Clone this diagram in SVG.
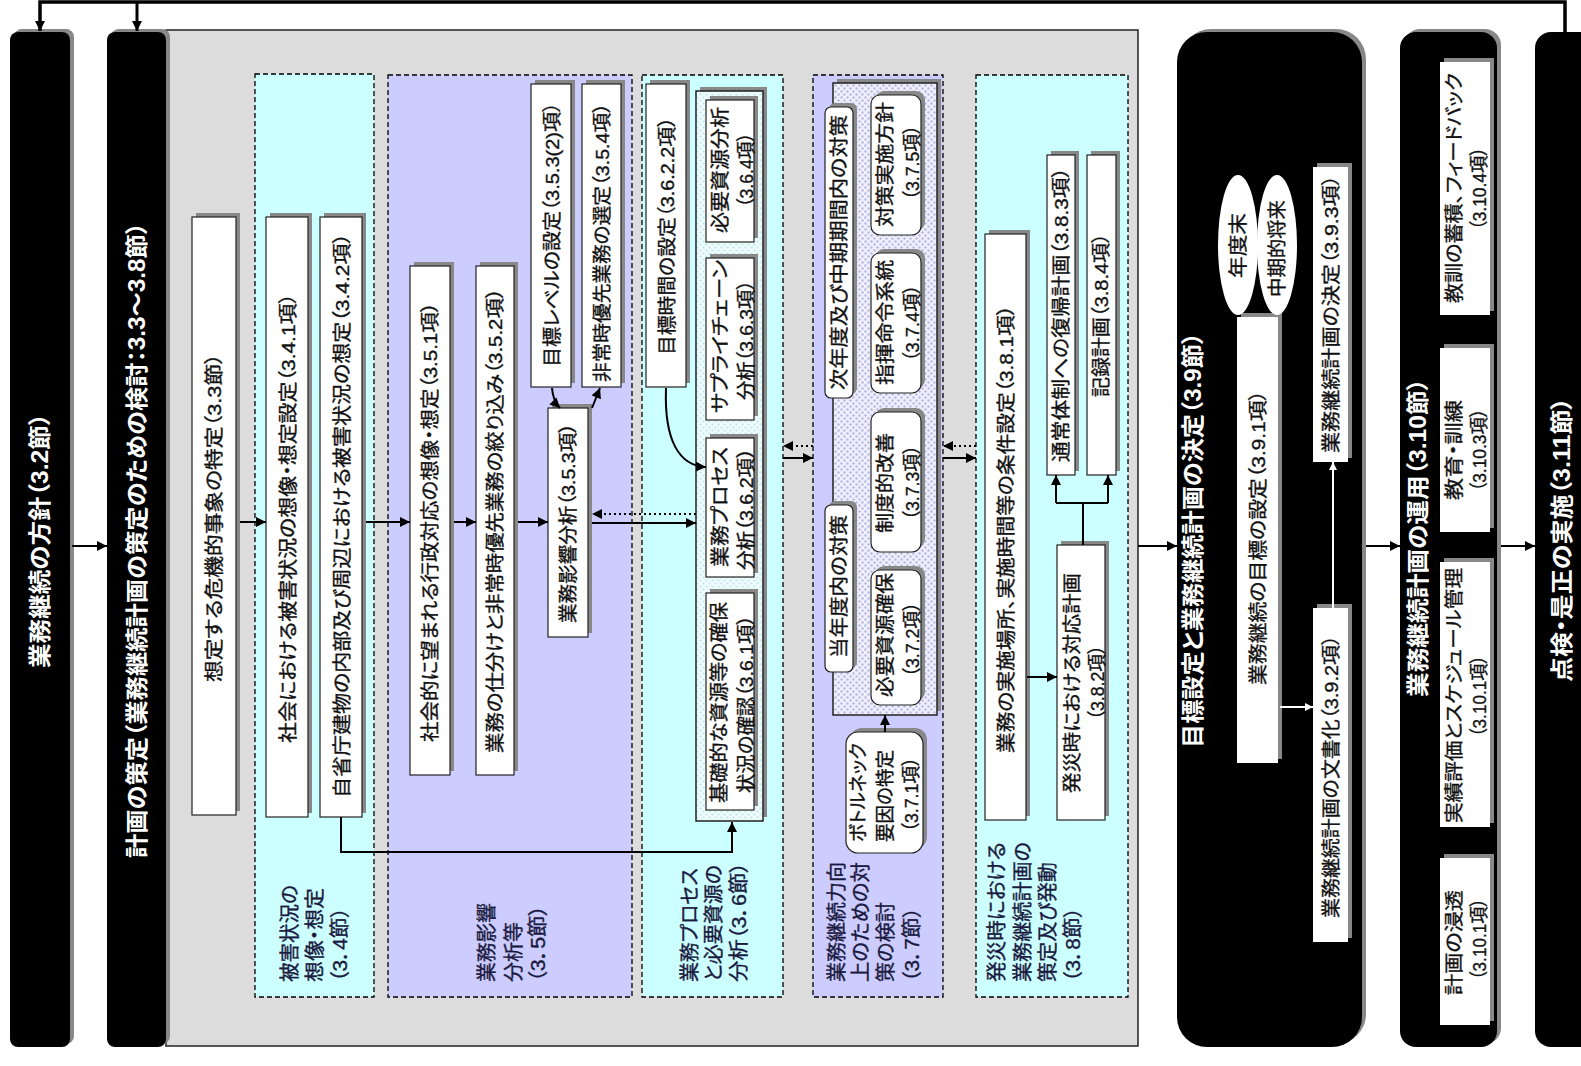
<svg xmlns="http://www.w3.org/2000/svg" width="1581" height="1066" viewBox="0 0 1581 1066">
<defs>
<style>
.t{font-family:"Liberation Sans","Noto Sans CJK JP",sans-serif;font-size:19px;fill:#111;stroke:#111;stroke-width:0.35;text-anchor:middle;dominant-baseline:central;font-feature-settings:"palt"}
.tw{font-family:"Liberation Sans","Noto Sans CJK JP",sans-serif;font-size:23px;font-weight:bold;fill:#fff;text-anchor:middle;dominant-baseline:central;font-feature-settings:"palt"}
.lb{font-family:"Liberation Sans","Noto Sans CJK JP",sans-serif;font-size:20px;fill:#1a1a40;stroke:#1a1a40;stroke-width:0.35;text-anchor:start;dominant-baseline:central;font-feature-settings:"palt"}
.bx{fill:#fff;stroke:#222;stroke-width:1.2}
.wb{fill:#fff}
.sh{fill:#888}
.bar{fill:#000}
.col{stroke:#000;stroke-width:1.3;stroke-dasharray:5 3}
.cy{fill:#ccffff}
.lv{fill:#ccccff}
.ln{fill:none;stroke:#000;stroke-width:2}
.dt{fill:none;stroke:#000;stroke-width:2;stroke-dasharray:2 3}
.wl{fill:none;stroke:#fff;stroke-width:2}
</style>
<marker id="ah" viewBox="0 0 10 10" refX="10" refY="5" markerWidth="12" markerHeight="10" markerUnits="userSpaceOnUse" orient="auto"><path d="M0,0 L10,5 L0,10 z" fill="#000"/></marker>
<marker id="ahw" viewBox="0 0 10 10" refX="10" refY="5" markerWidth="9" markerHeight="8" markerUnits="userSpaceOnUse" orient="auto"><path d="M0,0 L10,5 L0,10 z" fill="#fff"/></marker>
<pattern id="dotC" width="6" height="6" patternUnits="userSpaceOnUse"><rect width="6" height="6" fill="#eefcfc"/><circle cx="1.5" cy="1.5" r="1.1" fill="#bfe6ee"/><circle cx="4.5" cy="4.5" r="1.1" fill="#bfe6ee"/></pattern>
<pattern id="dotD" width="6" height="6" patternUnits="userSpaceOnUse"><rect width="6" height="6" fill="#f0f0fc"/><circle cx="1.5" cy="1.5" r="1.2" fill="#b8b8e6"/><circle cx="4.5" cy="4.5" r="1.2" fill="#b8b8e6"/></pattern>
</defs>
<rect width="1581" height="1066" fill="#fff"/>

<!-- planning stage: grey panel with five dashed sections -->
<g id="panel-plan">
<rect x="166" y="30" width="972" height="1016" fill="#dcdcdc" stroke="#222" stroke-width="1.5"/>
<rect class="col cy" x="255" y="74" width="119" height="923"/>
<rect class="col lv" x="388" y="75" width="244" height="922"/>
<rect class="col cy" x="642" y="75" width="141" height="922"/>
<rect class="col lv" x="813" y="75" width="130" height="922"/>
<rect class="col cy" x="976" y="75" width="152" height="922"/>
<text class="lb" transform="translate(290 982) rotate(-90)" textLength="97" lengthAdjust="spacingAndGlyphs">被害状況の</text>
<text class="lb" transform="translate(315 982) rotate(-90)" textLength="94" lengthAdjust="spacingAndGlyphs">想像・想定</text>
<text class="lb" transform="translate(340 982) rotate(-90)" textLength="75" lengthAdjust="spacingAndGlyphs">（3．4節）</text>
<text class="lb" transform="translate(487 982) rotate(-90)" textLength="79" lengthAdjust="spacingAndGlyphs">業務影響</text>
<text class="lb" transform="translate(514 982) rotate(-90)" textLength="60" lengthAdjust="spacingAndGlyphs">分析等</text>
<text class="lb" transform="translate(538 982) rotate(-90)" textLength="77" lengthAdjust="spacingAndGlyphs">（3．5節）</text>
<text class="lb" transform="translate(690 982) rotate(-90)" textLength="114" lengthAdjust="spacingAndGlyphs">業務プロセス</text>
<text class="lb" transform="translate(714 982) rotate(-90)" textLength="117" lengthAdjust="spacingAndGlyphs">と必要資源の</text>
<text class="lb" transform="translate(739 982) rotate(-90)" textLength="120" lengthAdjust="spacingAndGlyphs">分析（3．6節）</text>
<text class="lb" transform="translate(837 982) rotate(-90)" textLength="120" lengthAdjust="spacingAndGlyphs">業務継続力向</text>
<text class="lb" transform="translate(861 982) rotate(-90)" textLength="120" lengthAdjust="spacingAndGlyphs">上のための対</text>
<text class="lb" transform="translate(886 982) rotate(-90)" textLength="80" lengthAdjust="spacingAndGlyphs">策の検討</text>
<text class="lb" transform="translate(912 982) rotate(-90)" textLength="75" lengthAdjust="spacingAndGlyphs">（3．7節）</text>
<text class="lb" transform="translate(997 982) rotate(-90)" textLength="140" lengthAdjust="spacingAndGlyphs">発災時における</text>
<text class="lb" transform="translate(1023 982) rotate(-90)" textLength="140" lengthAdjust="spacingAndGlyphs">業務継続計画の</text>
<text class="lb" transform="translate(1048 982) rotate(-90)" textLength="120" lengthAdjust="spacingAndGlyphs">策定及び発動</text>
<text class="lb" transform="translate(1073 982) rotate(-90)" textLength="75" lengthAdjust="spacingAndGlyphs">（3．8節）</text>
</g>

<!-- black stage bars -->
<g id="bar-policy">
<rect class="sh" x="14" y="29" width="60" height="1015" rx="8"/>
<rect class="bar" x="10" y="32" width="60" height="1015" rx="8"/>
<text class="tw" transform="translate(40 540.5) rotate(-90)" textLength="255" lengthAdjust="spacingAndGlyphs">業務継続の方針（3.2節）</text>
</g>
<g id="bar-plan">
<rect class="sh" x="111" y="29" width="59" height="1015" rx="8"/>
<rect class="bar" x="107" y="32" width="59" height="1015" rx="8"/>
<text class="tw" transform="translate(137 540) rotate(-90)" textLength="636" lengthAdjust="spacingAndGlyphs">計画の策定（業務継続計画の策定のための検討：3.3～3.8節）</text>
</g>

<!-- 3.3 / 3.4 -->
<g id="n-crisis">
<rect class="sh" x="196" y="213" width="44" height="598"/>
<rect class="bx" x="192" y="217" width="44" height="598"/>
<text class="t" transform="translate(214 517.5) rotate(-90)" textLength="329" lengthAdjust="spacingAndGlyphs">想定する危機的事象の特定（3.3節）</text>
</g>
<g id="n-social-damage">
<rect class="sh" x="270" y="213" width="42" height="600"/>
<rect class="bx" x="266" y="217" width="42" height="600"/>
<text class="t" transform="translate(288 518) rotate(-90)" textLength="450" lengthAdjust="spacingAndGlyphs">社会における被害状況の想像・想定設定（3.4.1項）</text>
</g>
<g id="n-building-damage">
<rect class="sh" x="324" y="213" width="42" height="600"/>
<rect class="bx" x="320" y="217" width="42" height="600"/>
<text class="t" transform="translate(342 515.5) rotate(-90)" textLength="565" lengthAdjust="spacingAndGlyphs">自省庁建物の内部及び周辺における被害状況の想定（3.4.2項）</text>
</g>

<!-- 3.5 -->
<g id="n-admin-response">
<rect class="sh" x="414" y="262" width="40" height="509"/>
<rect class="bx" x="410" y="266" width="40" height="509"/>
<text class="t" transform="translate(430 522) rotate(-90)" textLength="440" lengthAdjust="spacingAndGlyphs">社会的に望まれる行政対応の想像・想定（3.5.1項）</text>
</g>
<g id="n-sorting">
<rect class="sh" x="480" y="262" width="38" height="509"/>
<rect class="bx" x="476" y="266" width="38" height="509"/>
<text class="t" transform="translate(495 520.5) rotate(-90)" textLength="465" lengthAdjust="spacingAndGlyphs">業務の仕分けと非常時優先業務の絞り込み（3.5.2項）</text>
</g>
<g id="n-bia">
<rect class="sh" x="552" y="404" width="40" height="229"/>
<rect class="bx" x="548" y="408" width="40" height="229"/>
<text class="t" transform="translate(568 523) rotate(-90)" textLength="200" lengthAdjust="spacingAndGlyphs">業務影響分析（3.5.3項）</text>
</g>
<g id="n-target-level">
<rect class="sh" x="535" y="80" width="40" height="303"/>
<rect class="bx" x="531" y="84" width="40" height="303"/>
<text class="t" transform="translate(552 234.5) rotate(-90)" textLength="265" lengthAdjust="spacingAndGlyphs">目標レベルの設定（3.5.3(2)項）</text>
</g>
<g id="n-priority">
<rect class="sh" x="586" y="80" width="39" height="303"/>
<rect class="bx" x="582" y="84" width="39" height="303"/>
<text class="t" transform="translate(602 242.5) rotate(-90)" textLength="279" lengthAdjust="spacingAndGlyphs">非常時優先業務の選定（3.5.4項）</text>
</g>

<!-- 3.6 -->
<g id="n-target-time">
<rect class="sh" x="650" y="80" width="40" height="303"/>
<rect class="bx" x="646" y="84" width="40" height="303"/>
<text class="t" transform="translate(667 236) rotate(-90)" textLength="238" lengthAdjust="spacingAndGlyphs">目標時間の設定（3.6.2.2項）</text>
</g>
<g id="n-process-group">
<rect class="sh" x="700" y="87" width="67" height="730"/>
<rect x="696" y="91" width="67" height="730" fill="url(#dotC)" stroke="#222" stroke-width="1.5"/>
<g id="n-resource-analysis">
<rect class="sh" x="710" y="96" width="48" height="142"/>
<rect class="bx" x="706" y="100" width="48" height="142"/>
<text class="t" transform="translate(720 170) rotate(-90)" textLength="126" lengthAdjust="spacingAndGlyphs">必要資源分析</text>
<text class="t" transform="translate(746 170) rotate(-90)" textLength="75" lengthAdjust="spacingAndGlyphs">（3.6.4項）</text>
</g>
<g id="n-supply-chain">
<rect class="sh" x="710" y="254" width="48" height="162"/>
<rect class="bx" x="706" y="258" width="48" height="162"/>
<text class="t" transform="translate(720 336.5) rotate(-90)" textLength="153" lengthAdjust="spacingAndGlyphs">サプライチェーン</text>
<text class="t" transform="translate(746 340) rotate(-90)" textLength="120" lengthAdjust="spacingAndGlyphs">分析（3.6.3項）</text>
</g>
<g id="n-process-analysis">
<rect class="sh" x="710" y="434" width="48" height="139"/>
<rect class="bx" x="706" y="438" width="48" height="139"/>
<text class="t" transform="translate(720 507) rotate(-90)" textLength="120" lengthAdjust="spacingAndGlyphs">業務プロセス</text>
<text class="t" transform="translate(746 509) rotate(-90)" textLength="122" lengthAdjust="spacingAndGlyphs">分析（3.6.2項）</text>
</g>
<g id="n-basic-resources">
<rect class="sh" x="710" y="589" width="48" height="217"/>
<rect class="bx" x="706" y="593" width="48" height="217"/>
<text class="t" transform="translate(719 702.5) rotate(-90)" textLength="201" lengthAdjust="spacingAndGlyphs">基礎的な資源等の確保</text>
<text class="t" transform="translate(746 704) rotate(-90)" textLength="178" lengthAdjust="spacingAndGlyphs">状況の確認（3.6.1項）</text>
</g>
</g>

<!-- 3.7 -->
<g id="n-measures-group">
<rect class="sh" x="837" y="79" width="104" height="632"/>
<rect x="833" y="83" width="104" height="632" fill="url(#dotD)" stroke="#222" stroke-width="1.5"/>
<g id="n-next-year">
<rect class="sh" x="829" y="103" width="28" height="291" rx="6"/>
<rect class="bx" x="825" y="107" width="28" height="291" rx="6"/>
<text class="t" transform="translate(839.5 252.5) rotate(-90)" textLength="275" lengthAdjust="spacingAndGlyphs">次年度及び中期期間内の対策</text>
</g>
<g id="n-this-year">
<rect class="sh" x="829" y="501" width="28" height="167" rx="6"/>
<rect class="bx" x="825" y="505" width="28" height="167" rx="6"/>
<text class="t" transform="translate(839.5 586.5) rotate(-90)" textLength="143" lengthAdjust="spacingAndGlyphs">当年度内の対策</text>
</g>
<g id="n-policy-impl">
<rect class="sh" x="875" y="91" width="50" height="140" rx="9"/>
<rect class="bx" x="871" y="95" width="50" height="140" rx="9"/>
<text class="t" transform="translate(885 164.5) rotate(-90)" textLength="125" lengthAdjust="spacingAndGlyphs">対策実施方針</text>
<text class="t" transform="translate(912 162.5) rotate(-90)" textLength="75" lengthAdjust="spacingAndGlyphs">（3.7.5項）</text>
</g>
<g id="n-command">
<rect class="sh" x="875" y="249" width="50" height="140" rx="9"/>
<rect class="bx" x="871" y="253" width="50" height="140" rx="9"/>
<text class="t" transform="translate(885 322.5) rotate(-90)" textLength="125" lengthAdjust="spacingAndGlyphs">指揮命令系統</text>
<text class="t" transform="translate(912 323) rotate(-90)" textLength="77" lengthAdjust="spacingAndGlyphs">（3.7.4項）</text>
</g>
<g id="n-institutional">
<rect class="sh" x="875" y="408" width="50" height="140" rx="9"/>
<rect class="bx" x="871" y="412" width="50" height="140" rx="9"/>
<text class="t" transform="translate(885 483) rotate(-90)" textLength="100" lengthAdjust="spacingAndGlyphs">制度的改善</text>
<text class="t" transform="translate(912 482.5) rotate(-90)" textLength="75" lengthAdjust="spacingAndGlyphs">（3.7.3項）</text>
</g>
<g id="n-resource-secure">
<rect class="sh" x="875" y="566" width="50" height="135" rx="9"/>
<rect class="bx" x="871" y="570" width="50" height="135" rx="9"/>
<text class="t" transform="translate(885 635) rotate(-90)" textLength="124" lengthAdjust="spacingAndGlyphs">必要資源確保</text>
<text class="t" transform="translate(912 639.5) rotate(-90)" textLength="75" lengthAdjust="spacingAndGlyphs">（3.7.2項）</text>
</g>
</g>
<g id="n-bottleneck">
<rect class="sh" x="850" y="728" width="77" height="121" rx="12"/>
<rect class="bx" x="846" y="732" width="77" height="121" rx="12"/>
<text class="t" transform="translate(858 792.5) rotate(-90)" textLength="99" lengthAdjust="spacingAndGlyphs">ボトルネック</text>
<text class="t" transform="translate(885 796) rotate(-90)" textLength="92" lengthAdjust="spacingAndGlyphs">要因の特定</text>
<text class="t" transform="translate(911 794.5) rotate(-90)" textLength="75" lengthAdjust="spacingAndGlyphs">（3.7.1項）</text>
</g>

<!-- 3.8 -->
<g id="n-conditions">
<rect class="sh" x="989" y="230" width="41" height="586"/>
<rect class="bx" x="985" y="234" width="41" height="586"/>
<text class="t" transform="translate(1006 529) rotate(-90)" textLength="448" lengthAdjust="spacingAndGlyphs">業務の実施場所、実施時間等の条件設定（3.8.1項）</text>
</g>
<g id="n-recovery">
<rect class="sh" x="1051" y="151" width="28" height="320"/>
<rect class="bx" x="1047" y="155" width="28" height="320"/>
<text class="t" transform="translate(1061 314.5) rotate(-90)" textLength="295" lengthAdjust="spacingAndGlyphs">通常体制への復帰計画（3.8.3項）</text>
</g>
<g id="n-record">
<rect class="sh" x="1091" y="151" width="29" height="320"/>
<rect class="bx" x="1087" y="155" width="29" height="320"/>
<text class="t" transform="translate(1101.5 315) rotate(-90)" textLength="164" lengthAdjust="spacingAndGlyphs">記録計画（3.8.4項）</text>
</g>
<g id="n-response">
<rect class="sh" x="1061" y="541" width="48" height="275"/>
<rect class="bx" x="1057" y="545" width="48" height="275"/>
<text class="t" transform="translate(1072 683) rotate(-90)" textLength="220" lengthAdjust="spacingAndGlyphs">発災時における対応計画</text>
<text class="t" transform="translate(1097 682.5) rotate(-90)" textLength="75" lengthAdjust="spacingAndGlyphs">（3.8.2項）</text>
</g>

<!-- 3.9 -->
<g id="bar-decide">
<rect class="sh" x="1181" y="29" width="185" height="1015" rx="30"/>
<rect class="bar" x="1177" y="32" width="185" height="1015" rx="30"/>
<text class="tw" transform="translate(1193 540) rotate(-90)" textLength="416" lengthAdjust="spacingAndGlyphs">目標設定と業務継続計画の決定（3.9節）</text>
</g>
<g id="n-goal">
<rect class="sh" x="1241" y="313" width="41" height="446"/>
<rect class="wb" x="1237" y="317" width="41" height="446"/>
<text class="t" transform="translate(1258 537.5) rotate(-90)" textLength="295" lengthAdjust="spacingAndGlyphs">業務継続の目標の設定（3.9.1項）</text>
</g>
<g id="n-fiscal-end">
<ellipse cx="1238" cy="245" rx="20" ry="70" fill="#fff"/>
<text class="t" transform="translate(1238 245.5) rotate(-90)" textLength="65" lengthAdjust="spacingAndGlyphs">年度末</text>
</g>
<g id="n-midterm">
<ellipse cx="1277" cy="245" rx="20" ry="70" fill="#fff"/>
<text class="t" transform="translate(1277 248.5) rotate(-90)" textLength="97" lengthAdjust="spacingAndGlyphs">中期的将来</text>
</g>
<g id="n-document">
<rect class="sh" x="1317" y="604" width="35" height="334"/>
<rect class="wb" x="1313" y="608" width="35" height="334"/>
<text class="t" transform="translate(1331 776.5) rotate(-90)" textLength="283" lengthAdjust="spacingAndGlyphs">業務継続計画の文書化（3.9.2項）</text>
</g>
<g id="n-decision">
<rect class="sh" x="1317" y="163" width="35" height="295"/>
<rect class="wb" x="1313" y="167" width="35" height="295"/>
<text class="t" transform="translate(1331 314) rotate(-90)" textLength="278" lengthAdjust="spacingAndGlyphs">業務継続計画の決定（3.9.3項）</text>
</g>

<!-- 3.10 -->
<g id="bar-operate">
<rect class="sh" x="1404" y="29" width="97" height="1015" rx="16"/>
<rect class="bar" x="1400" y="32" width="97" height="1015" rx="16"/>
<text class="tw" transform="translate(1418 537.5) rotate(-90)" textLength="319" lengthAdjust="spacingAndGlyphs">業務継続計画の運用（3.10節）</text>
</g>
<g id="n-lessons">
<rect class="sh" x="1444" y="58" width="50" height="253"/>
<rect class="wb" x="1440" y="62" width="50" height="253"/>
<text class="t" transform="translate(1454 188) rotate(-90)" textLength="230" lengthAdjust="spacingAndGlyphs">教訓の蓄積、フィードバック</text>
<text class="t" transform="translate(1479 188.5) rotate(-90)" textLength="83" lengthAdjust="spacingAndGlyphs">（3.10.4項）</text>
</g>
<g id="n-training">
<rect class="sh" x="1444" y="344" width="50" height="184"/>
<rect class="wb" x="1440" y="348" width="50" height="184"/>
<text class="t" transform="translate(1454 450) rotate(-90)" textLength="100" lengthAdjust="spacingAndGlyphs">教育・訓練</text>
<text class="t" transform="translate(1479 450) rotate(-90)" textLength="83" lengthAdjust="spacingAndGlyphs">（3.10.3項）</text>
</g>
<g id="n-evaluation">
<rect class="sh" x="1444" y="558" width="50" height="265"/>
<rect class="wb" x="1440" y="562" width="50" height="265"/>
<text class="t" transform="translate(1454 695.5) rotate(-90)" textLength="255" lengthAdjust="spacingAndGlyphs">実績評価とスケジュール管理</text>
<text class="t" transform="translate(1479 696) rotate(-90)" textLength="82" lengthAdjust="spacingAndGlyphs">（3.10.1項）</text>
</g>
<g id="n-penetration">
<rect class="sh" x="1444" y="854" width="50" height="167"/>
<rect class="wb" x="1440" y="858" width="50" height="167"/>
<text class="t" transform="translate(1454 942.5) rotate(-90)" textLength="105" lengthAdjust="spacingAndGlyphs">計画の浸透</text>
<text class="t" transform="translate(1479 939) rotate(-90)" textLength="82" lengthAdjust="spacingAndGlyphs">（3.10.1項）</text>
</g>

<!-- 3.11 -->
<g id="bar-review">
<rect class="bar" x="1535" y="32" width="80" height="1015" rx="16"/>
<text class="tw" transform="translate(1562 539.5) rotate(-90)" textLength="285" lengthAdjust="spacingAndGlyphs">点検・是正の実施（3.11節）</text>
</g>

<!-- connectors -->
<g id="connectors">
<path d="M1565,32 V2 H40 V31" fill="none" stroke="#000" stroke-width="3.5" marker-end="url(#ah)"/>
<path d="M137,2 V31" fill="none" stroke="#000" stroke-width="3" marker-end="url(#ah)"/>
<path class="ln" d="M72,546 H107" marker-end="url(#ah)"/>
<path class="ln" d="M240,522 H266" marker-end="url(#ah)"/>
<path class="ln" d="M366,522 H410" marker-end="url(#ah)"/>
<path class="ln" d="M454,522 H476" marker-end="url(#ah)"/>
<path class="ln" d="M518,522 H548" marker-end="url(#ah)"/>
<path class="ln" d="M592,523 H696" marker-end="url(#ah)"/>
<path class="dt" d="M696,514 H592" marker-end="url(#ah)"/>
<path class="ln" d="M552,388 Q553,401 560,408" marker-end="url(#ah)"/>
<path class="ln" d="M592,408 Q596,398 600,388" marker-end="url(#ah)"/>
<path class="ln" d="M666,388 C664,442 680,466 706,467" marker-end="url(#ah)"/>
<path class="ln" d="M341,817 V852 H732 V822" marker-end="url(#ah)"/>
<path class="ln" d="M783,458 H813" marker-end="url(#ah)"/>
<path class="dt" d="M813,446 H783" marker-end="url(#ah)"/>
<path class="ln" d="M943,458 H976" marker-end="url(#ah)"/>
<path class="dt" d="M976,446 H943" marker-end="url(#ah)"/>
<path class="ln" d="M885,732 V715" marker-end="url(#ah)"/>
<path class="ln" d="M1027,677 H1057" marker-end="url(#ah)"/>
<path class="ln" d="M1083,545 V503"/>
<path class="ln" d="M1056,503 H1108"/>
<path class="ln" d="M1056,503 V475" marker-end="url(#ah)"/>
<path class="ln" d="M1108,503 V475" marker-end="url(#ah)"/>
<path class="ln" d="M1138,546 H1177" marker-end="url(#ah)"/>
<path class="ln" d="M1366,546 H1400" marker-end="url(#ah)"/>
<path class="ln" d="M1501,546 H1535" marker-end="url(#ah)"/>
<path class="wl" d="M1280,707 H1313" marker-end="url(#ahw)"/>
<path class="wl" d="M1333,608 V462" marker-end="url(#ahw)"/>
</g>
</svg>
